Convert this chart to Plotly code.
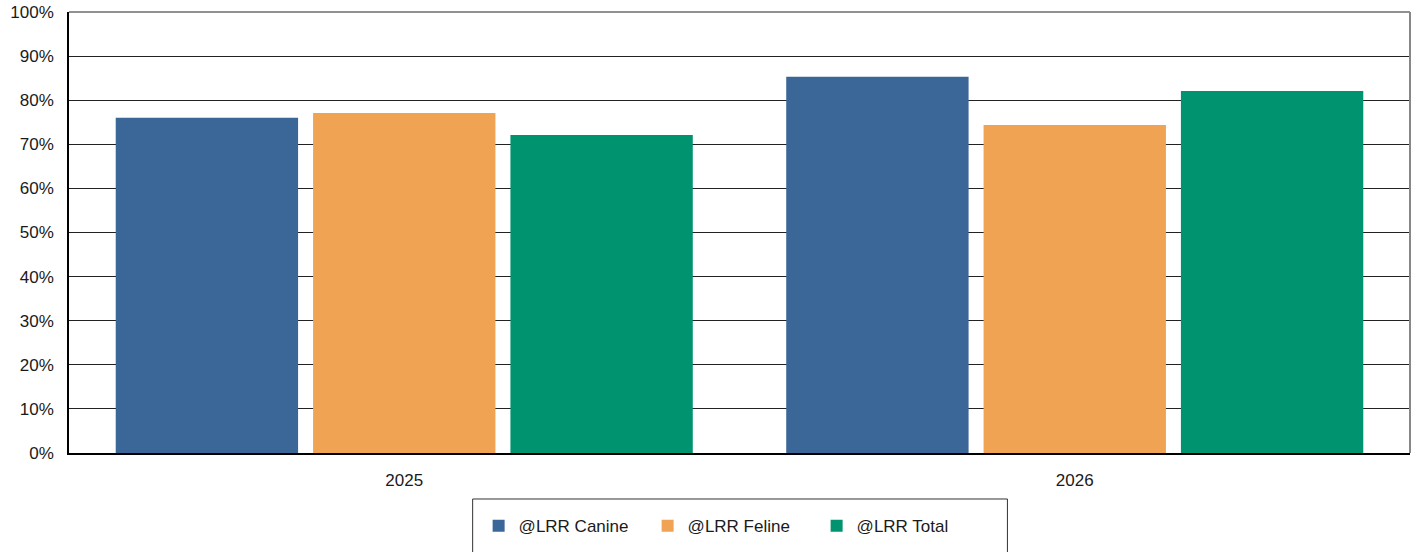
import plotly.graph_objects as go

categories = ["2025", "2026"]
canine = [76.0, 85.3]
feline = [77.1, 74.4]
total = [72.1, 82.1]
series_names = ["@LRR Canine", "@LRR Feline", "@LRR Total"]
colors = ["#3B6698", "#EFA353", "#009370"]
y_ticks = [0, 10, 20, 30, 40, 50, 60, 70, 80, 90, 100]
y_tick_labels = [f"{v}%" for v in y_ticks]

fig = go.Figure()
for name, vals, col in zip(series_names, [canine, feline, total], colors):
    fig.add_trace(go.Bar(x=categories, y=vals, name=name, marker=dict(color=col, line=dict(width=0))))

font = dict(family="Liberation Sans, Arial, sans-serif", size=17, color="#1a1a1a")

fig.update_layout(
    width=1413, height=552,
    margin=dict(l=69, r=3, t=12, b=99, autoexpand=False),
    paper_bgcolor="white", plot_bgcolor="white",
    barmode="group", bargap=0.117, bargroupgap=0.076,
    font=font,
    showlegend=True,
    legend=dict(
        orientation="h", x=0.4945, xanchor="center", y=-0.125, yanchor="top",
        borderwidth=0, font=dict(size=17),
        itemwidth=30, entrywidth=124, traceorder="normal",
    ),
    xaxis=dict(
        type="category", showgrid=False, showline=True, linecolor="black", linewidth=2,
        ticks="outside", ticklen=11, tickcolor="rgba(0,0,0,0)", tickfont=font,
        automargin=False,
    ),
    yaxis=dict(
        range=[0, 100], tickvals=y_ticks, ticktext=y_tick_labels,
        showgrid=True, gridcolor="#222222", gridwidth=1,
        showline=True, linecolor="black", linewidth=1.5,
        ticks="outside", ticklen=10, tickcolor="rgba(0,0,0,0)", tickfont=font,
        zeroline=False, automargin=False,
    ),
)
# top and right border of plot area
fig.add_shape(type="line", xref="paper", yref="paper", x0=0, x1=1, y0=1, y1=1,
              line=dict(color="#222222", width=1))
fig.add_shape(type="line", xref="paper", yref="paper", x0=1, x1=1, y0=0, y1=1,
              line=dict(color="#888888", width=2))
# legend frame
fig.add_shape(type="rect", xref="paper", yref="paper", x0=0.301, x1=0.6998, y0=-0.1043, y1=-0.26,
              line=dict(color="#333333", width=1), fillcolor="rgba(0,0,0,0)")

fig.write_html("out.html", config={"displayModeBar": False},
               post_script="document.body.style.margin='0';document.body.style.overflow='hidden';")
